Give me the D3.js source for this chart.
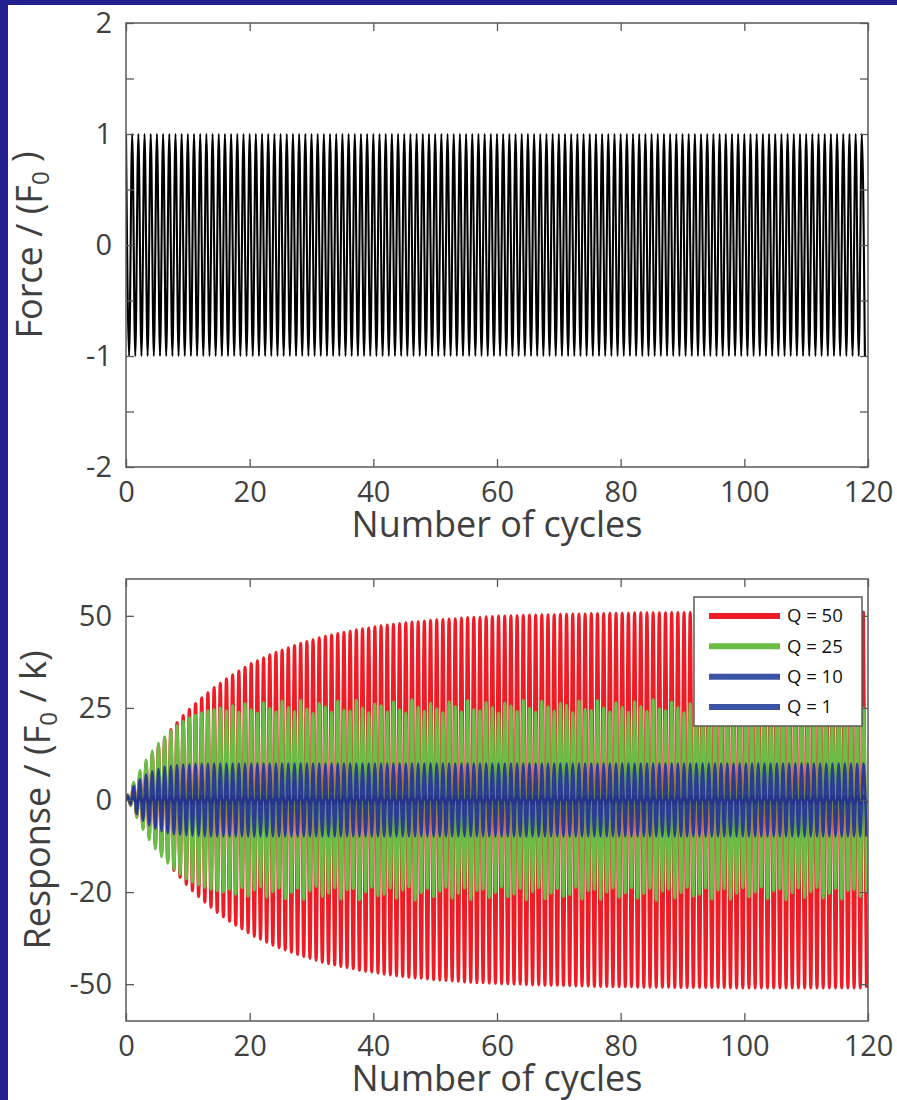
<!DOCTYPE html>
<html>
<head>
<meta charset="utf-8">
<script src="https://cdn.jsdelivr.net/npm/d3@7"></script>
<style>
  body { margin: 0; background: #22208f; }
  svg { display: block; }
  text { font-family: "Open Sans", "Noto Sans", sans-serif; }
</style>
</head>
<body>
<div class="chart"></div>
<script>
//Data
const cycleTicks = [0, 20, 40, 60, 80, 100, 120];
const forceTicks = [-2, -1.5, -1, -0.5, 0, 0.5, 1, 1.5, 2];
const forceLabels = ["-2", "", "-1", "", "0", "", "1", "", "2"];
const respTicks = [-50, -25, 0, 25, 50];
const respLabels = ["-50", "-20", "0", "25", "50"];  // the original really says -20 here

// force amplitude per cycle (F0 units)
const forceAmp = [
  1,1,1,1,1,1,1,1,1,1, 1,1,1,1,1,1,1,1,1,1, 1,1,1,1,1,1,1,1,1,1,
  1,1,1,1,1,1,1,1,1,1, 1,1,1,1,1,1,1,1,1,1, 1,1,1,1,1,1,1,1,1,1,
  1,1,1,1,1,1,1,1,1,1, 1,1,1,1,1,1,1,1,1,1, 1,1,1,1,1,1,1,1,1,1,
  1,1,1,1,1,1,1,1,1,1, 1,1,1,1,1,1,1,1,1,1, 1,1,1,1,1,1,1,1,1,1
];

// response peak height per cycle (F0/k units)
const q50 = [
  1.5, 4.6, 7.4, 10.0, 12.5, 14.8, 17.0, 19.1, 21.0, 22.9,
  24.6, 26.2, 27.7, 29.1, 30.5, 31.7, 32.9, 34.0, 35.0, 36.0,
  37.0, 37.8, 38.6, 39.4, 40.1, 40.7, 41.3, 41.9, 42.5, 43.0,
  43.5, 44.0, 44.4, 44.8, 45.2, 45.5, 45.8, 46.2, 46.5, 46.7,
  47.0, 47.3, 47.5, 47.7, 47.9, 48.1, 48.3, 48.4, 48.6, 48.8,
  48.9, 49.0, 49.1, 49.2, 49.4, 49.5, 49.6, 49.6, 49.7, 49.8,
  49.9, 49.9, 50.0, 50.0, 50.1, 50.2, 50.2, 50.3, 50.3, 50.3,
  50.4, 50.4, 50.5, 50.5, 50.5, 50.6, 50.6, 50.6, 50.7, 50.7,
  50.7, 50.7, 50.8, 50.8, 50.8, 50.8, 50.8, 50.8, 50.9, 50.9,
  50.9, 50.9, 50.9, 50.9, 50.9, 50.9, 50.9, 51.0, 51.0, 51.0,
  51.0, 51.0, 51.0, 51.0, 51.0, 51.0, 51.0, 51.0, 51.0, 51.0,
  51.0, 51.0, 51.0, 51.0, 51.0, 51.0, 51.0, 51.0, 51.0, 51.0
];
const q25 = [
  1.5, 4.8, 8.0, 10.8, 13.3, 15.4, 17.2, 18.8, 20.2, 21.4,
  22.3, 23.0, 23.7, 24.2, 24.6, 25.0, 24.2, 25.6, 23.8, 26.1,
  24.5, 23.6, 26.4, 24.9, 23.9, 26.8, 25.1, 24.0, 27.0, 24.7,
  23.5, 26.2, 25.3, 23.8, 26.9, 24.4, 24.1, 27.1, 25.0, 23.7,
  26.0, 25.6, 23.9, 26.7, 24.5, 23.6, 27.2, 25.2, 24.0, 26.3,
  24.8, 23.7, 26.6, 25.4, 23.9, 27.0, 24.6, 24.2, 26.5, 25.1,
  23.6, 26.3, 25.5, 24.0, 27.1, 24.9, 23.8, 26.8, 25.3, 24.1,
  26.2, 25.7, 23.7, 26.9, 24.6, 24.3, 27.0, 25.0, 23.9, 26.4,
  25.2, 23.8, 26.7, 25.4, 24.0, 27.3, 24.8, 24.2, 26.6, 25.1,
  23.7, 26.1, 25.6, 23.9, 26.9, 24.5, 24.1, 27.0, 25.3, 23.8,
  26.3, 25.0, 23.6, 26.8, 24.7, 24.2, 27.1, 25.2, 23.9, 26.5,
  24.9, 23.7, 26.6, 25.4, 24.0, 26.9, 24.6, 24.3, 26.2, 25.0
];
const q10 = [
  1.2, 3.8, 5.6, 6.9, 7.8, 8.5, 9.0, 9.3, 9.5, 9.6,
  9.7, 9.8, 9.8, 9.9, 9.9, 9.9, 9.9, 9.9, 9.9, 9.9,
  9.9, 9.9, 9.9, 9.9, 9.9, 9.9, 9.9, 9.9, 9.9, 9.9,
  9.9, 9.9, 9.9, 9.9, 9.9, 9.9, 9.9, 9.9, 9.9, 9.9,
  9.9, 9.9, 9.9, 9.9, 9.9, 9.9, 9.9, 9.9, 9.9, 9.9,
  9.9, 9.9, 9.9, 9.9, 9.9, 9.9, 9.9, 9.9, 9.9, 9.9,
  9.9, 9.9, 9.9, 9.9, 9.9, 9.9, 9.9, 9.9, 9.9, 9.9,
  9.9, 9.9, 9.9, 9.9, 9.9, 9.9, 9.9, 9.9, 9.9, 9.9,
  9.9, 9.9, 9.9, 9.9, 9.9, 9.9, 9.9, 9.9, 9.9, 9.9,
  9.9, 9.9, 9.9, 9.9, 9.9, 9.9, 9.9, 9.9, 9.9, 9.9,
  9.9, 9.9, 9.9, 9.9, 9.9, 9.9, 9.9, 9.9, 9.9, 9.9,
  9.9, 9.9, 9.9, 9.9, 9.9, 9.9, 9.9, 9.9, 9.9, 9.9
];
const q1 = [
  0.5, 0.8, 0.9, 1.0, 1.0, 1.0, 1.0, 1.0, 1.0, 1.0,
  1.0, 1.0, 1.0, 1.0, 1.0, 1.0, 1.0, 1.0, 1.0, 1.0,
  1.0, 1.0, 1.0, 1.0, 1.0, 1.0, 1.0, 1.0, 1.0, 1.0,
  1.0, 1.0, 1.0, 1.0, 1.0, 1.0, 1.0, 1.0, 1.0, 1.0,
  1.0, 1.0, 1.0, 1.0, 1.0, 1.0, 1.0, 1.0, 1.0, 1.0,
  1.0, 1.0, 1.0, 1.0, 1.0, 1.0, 1.0, 1.0, 1.0, 1.0,
  1.0, 1.0, 1.0, 1.0, 1.0, 1.0, 1.0, 1.0, 1.0, 1.0,
  1.0, 1.0, 1.0, 1.0, 1.0, 1.0, 1.0, 1.0, 1.0, 1.0,
  1.0, 1.0, 1.0, 1.0, 1.0, 1.0, 1.0, 1.0, 1.0, 1.0,
  1.0, 1.0, 1.0, 1.0, 1.0, 1.0, 1.0, 1.0, 1.0, 1.0,
  1.0, 1.0, 1.0, 1.0, 1.0, 1.0, 1.0, 1.0, 1.0, 1.0,
  1.0, 1.0, 1.0, 1.0, 1.0, 1.0, 1.0, 1.0, 1.0, 1.0
];
const seriesNames = ["Q = 50", "Q = 25", "Q = 10", "Q = 1"];
const seriesColors = ["#ee1c25", "#6abd45", "#2c3b94", "#27348b"];

//Create svg
const width = 897;
const height = 1100;
const svg = d3.select('.chart')
    .append('svg')
    .attr('width', width)
    .attr('height', height);

svg.append('rect')
    .attr('x', 8).attr('y', 5)
    .attr('width', width - 8).attr('height', height - 5)
    .attr('fill', 'white');

const axisColor = '#595959';
const labelColor = '#3f3f3f';

function drawPanel(top, bottom, yDomain, yTicks, yLabels, id) {
  const x = d3.scaleLinear().domain([0, 120]).range([126, 868]);
  const y = d3.scaleLinear().domain(yDomain).range([bottom, top]);
  const g = svg.append('g');

  g.append('clipPath').attr('id', id)
    .append('rect')
    .attr('x', 126).attr('y', top)
    .attr('width', 742).attr('height', bottom - top);

  // lines go in here, under the frame
  const plot = g.append('g').attr('clip-path', `url(#${id})`);

  const style = sel => {
    sel.select('.domain').remove();
    sel.selectAll('line').attr('stroke', axisColor).attr('stroke-width', 1.3);
    sel.selectAll('text')
      .attr('fill', labelColor)
      .style('font-size', '29px')
      .style('font-family', '"Open Sans", sans-serif');
  };

  g.append('g').attr('transform', `translate(0,${bottom})`)
    .call(d3.axisBottom(x).tickValues(cycleTicks).tickSizeInner(-8).tickSizeOuter(0).tickPadding(14))
    .call(style);
  g.append('g').attr('transform', `translate(0,${top})`)
    .call(d3.axisTop(x).tickValues(cycleTicks).tickSizeInner(-8).tickSizeOuter(0).tickFormat(''))
    .call(style);
  g.append('g').attr('transform', 'translate(126,0)')
    .call(d3.axisLeft(y).tickValues(yTicks).tickSizeInner(-8).tickSizeOuter(0).tickPadding(14)
      .tickFormat((d, i) => yLabels[i]))
    .call(style);
  g.append('g').attr('transform', 'translate(868,0)')
    .call(d3.axisRight(y).tickValues(yTicks).tickSizeInner(-8).tickSizeOuter(0).tickFormat(''))
    .call(style);

  g.append('rect')
    .attr('x', 126).attr('y', top)
    .attr('width', 742).attr('height', bottom - top)
    .attr('fill', 'none')
    .attr('stroke', axisColor)
    .attr('stroke-width', 1.5);

  g.append('text')
    .attr('x', 497).attr('y', bottom + 70)
    .attr('text-anchor', 'middle')
    .attr('fill', labelColor)
    .style('font-size', '36px')
    .text('Number of cycles');

  return {x, y, g, plot};
}

//FORCE PANEL
const p1 = drawPanel(23, 467, [-2, 2], forceTicks, forceLabels, 'clip1');

const forcePts = [];
forceAmp.forEach((a, n) => {
  forcePts.push([n, a]);
  forcePts.push([n + 0.5, -a]);
});

const line1 = d3.line()
    .x(d => p1.x(d[0]))
    .y(d => p1.y(d[1]))
    .curve(d3.curveMonotoneX);

p1.plot.append('path')
    .attr('d', line1(forcePts))
    .attr('fill', 'none')
    .attr('stroke', 'black')
    .attr('stroke-width', 2.1);

let t1 = p1.g.append('text')
    .attr('transform', 'translate(42,245) rotate(-90)')
    .attr('text-anchor', 'middle')
    .attr('fill', labelColor)
    .style('font-size', '36px');
t1.append('tspan').text('Force / (F');
t1.append('tspan').attr('dy', '0.3em').style('font-size', '24px').text('0');
t1.append('tspan').attr('dy', '-0.3em').text(' )');

//RESPONSE PANEL
const p2 = drawPanel(579, 1021, [-60, 60], respTicks, respLabels, 'clip2');

const line2 = d3.line()
    .x(d => p2.x(d[0]))
    .y(d => p2.y(d[1]))
    .curve(d3.curveMonotoneX);

function respPoints(arr) {
  const pts = [[0, 0]];
  arr.forEach((a, n) => {
    pts.push([n + 0.25, a]);
    pts.push([n + 0.75, -a]);
  });
  return pts;
}

const series = [q50, q25, q10, q1];
const widths = [3.2, 3, 2.6, 3];
series.forEach((s, i) => {
  p2.plot.append('path')
    .attr('d', line2(respPoints(s)))
    .attr('fill', 'none')
    .attr('stroke', seriesColors[i])
    .attr('stroke-width', widths[i])
    .attr('stroke-linejoin', 'round');
});

let t2 = p2.g.append('text')
    .attr('transform', 'translate(50,800) rotate(-90)')
    .attr('text-anchor', 'middle')
    .attr('fill', labelColor)
    .style('font-size', '36px');
t2.append('tspan').text('Response / (F');
t2.append('tspan').attr('dy', '0.3em').style('font-size', '24px').text('0');
t2.append('tspan').attr('dy', '-0.3em').text(' / k)');

//Legend
const legend = p2.g.append('g');
legend.append('rect')
    .attr('x', 694).attr('y', 597)
    .attr('width', 168).attr('height', 129)
    .attr('fill', 'white')
    .attr('stroke', axisColor)
    .attr('stroke-width', 1.5);

const legendY = d3.scalePoint().domain(seriesNames).range([616, 707]);
legend.selectAll('.leg-line')
    .data(seriesNames)
    .enter()
    .append('line')
    .attr('x1', 709).attr('x2', 780)
    .attr('y1', d => legendY(d)).attr('y2', d => legendY(d))
    .attr('stroke', (d, i) => i >= 2 ? '#3a53a4' : seriesColors[i])
    .attr('stroke-width', 6);
legend.selectAll('.leg-text')
    .data(seriesNames)
    .enter()
    .append('text')
    .attr('x', 787)
    .attr('y', d => legendY(d))
    .attr('dy', '0.35em')
    .attr('fill', '#111')
    .style('font-size', '18.5px')
    .text(d => d);
</script>
</body>
</html>
